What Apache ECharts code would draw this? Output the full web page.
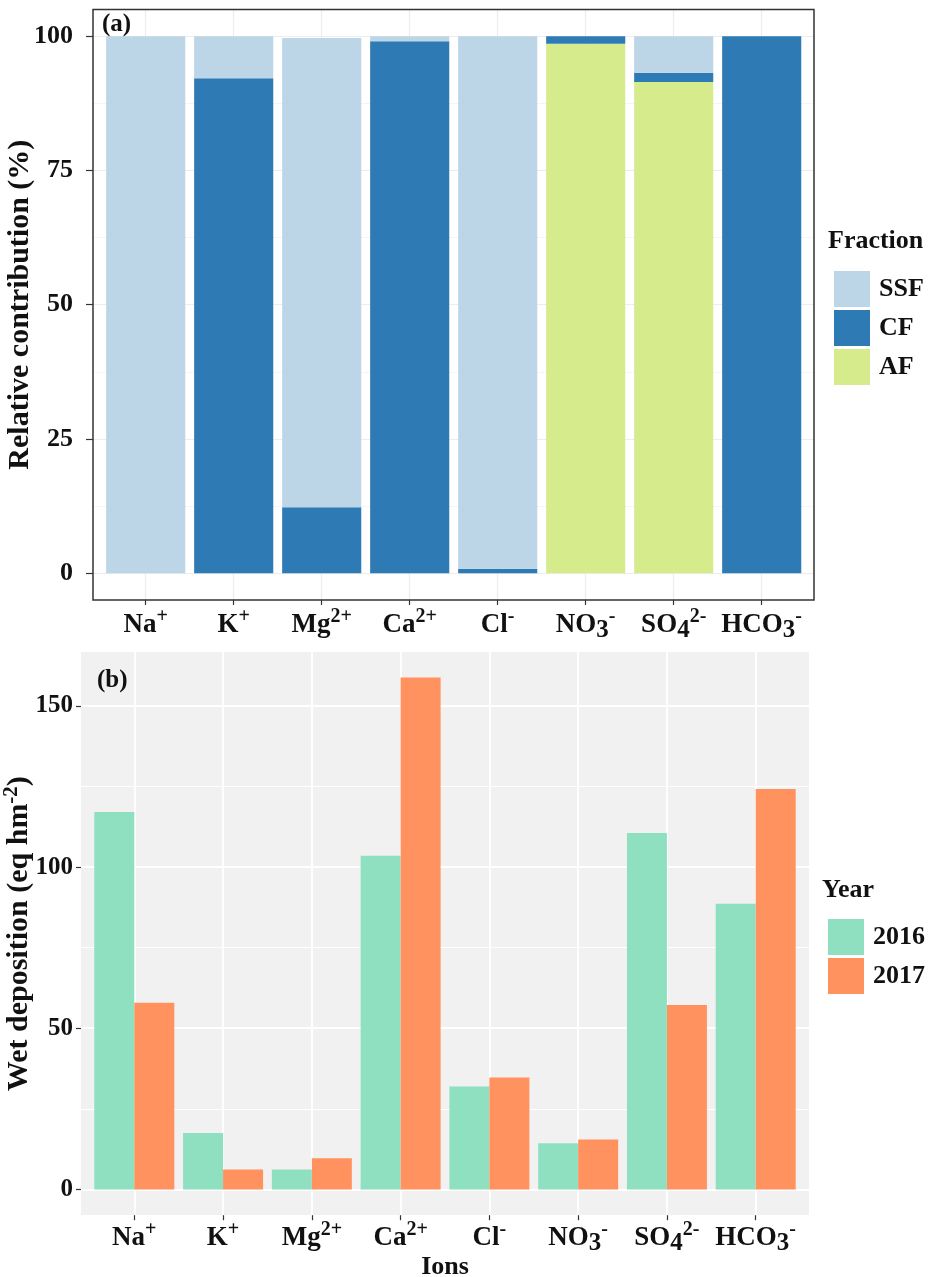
<!DOCTYPE html>
<html>
<head>
<meta charset="utf-8">
<script src="https://cdn.jsdelivr.net/npm/echarts@6/dist/echarts.min.js"></script>
<style>
  html, body { margin: 0; padding: 0; background: #fff; }
  #chart { width: 936px; height: 1277px; }
</style>
</head>
<body>
<div id="chart"></div>
<script>
// ion names: _ = subscript, ^ = charge (superscript)
const ions = ['Na^+', 'K^+', 'Mg^2+', 'Ca^2+', 'Cl^-', 'NO_3^-', 'SO_4^2-', 'HCO_3^-'];

// (a) relative contribution (%)
const fractions = ['SSF', 'CF', 'AF'];
const ssf = [100, 7.8, 87.4, 0.9, 99.2, 0, 6.8, 0];
const cf  = [0, 92.2, 12.3, 99.1, 0.8, 1.4, 1.7, 100];
const af  = [0, 0, 0, 0, 0, 98.6, 91.5, 0];
const fracTicks = [0, 100, 25];

// (b) wet deposition
const years = ['2016', '2017'];
const dep2016 = [117.1, 17.5, 6.2, 103.5, 31.9, 14.3, 110.6, 88.6];
const dep2017 = [57.9, 6.2, 9.7, 158.8, 34.7, 15.5, 57.2, 124.2];
const depTicks = [0, 150, 50];

const SERIF = 'Liberation Serif';
const INK = '#111';
const fracColors = { SSF: '#bcd6e7', CF: '#2e7ab4', AF: '#d5eb8c' };
const yearColors = { '2016': '#8ee0c0', '2017': '#ff925f' };

function ionLabel(s) {
  const m = s.match(/^([A-Za-z]+)(?:_(\d))?\^(.+)$/);
  return '{b|' + m[1] + '}' + (m[2] ? '{sub|' + m[2] + '}' : '') + '{sup|' + m[3] + '}';
}

const labelRich = {
  b:   { fontFamily: SERIF, fontWeight: 'bold', fontSize: 27, color: INK, lineHeight: 36 },
  sub: { fontFamily: SERIF, fontWeight: 'bold', fontSize: 25, color: INK, lineHeight: 26, verticalAlign: 'bottom' },
  sup: { fontFamily: SERIF, fontWeight: 'bold', fontSize: 20, color: INK, lineHeight: 20, verticalAlign: 'top' }
};

const txt = (size) => ({ fontFamily: SERIF, fontWeight: 'bold', fontSize: size, color: INK });

function catAxis(gridIndex, splitColor, splitWidth, margin) {
  return {
    type: 'category', gridIndex: gridIndex, data: ions, boundaryGap: false,
    axisLine: { show: false, onZero: false },
    axisTick: { show: true, length: 5, lineStyle: { color: '#333', width: 1.2 } },
    axisLabel: { margin: margin, formatter: ionLabel, rich: labelRich, interval: 0 },
    splitLine: { show: true, lineStyle: { color: splitColor, width: splitWidth } },
    nameMoveOverlap: false
  };
}

function valAxis(gridIndex, ticks, tickLen, margin, fontSize, major, minor) {
  return {
    type: 'value', gridIndex: gridIndex, min: ticks[0], max: ticks[1], interval: ticks[2],
    axisLine: { show: false, onZero: false },
    axisTick: { show: true, length: tickLen, lineStyle: { color: '#333', width: 1.2 } },
    axisLabel: Object.assign({ margin: margin, align: 'right' }, txt(fontSize)),
    splitLine: { show: true, lineStyle: { color: major.color, width: major.width } },
    minorTick: { show: false, splitNumber: 2 },
    minorSplitLine: { show: true, lineStyle: { color: minor.color, width: minor.width } },
    nameLocation: 'middle', nameRotate: 90, nameMoveOverlap: false
  };
}

const yA = valAxis(0, fracTicks, 7, 20, 26, { color: '#ececec', width: 1.2 }, { color: '#f2f2f2', width: 0.8 });
yA.name = 'Relative contribution (%)';
yA.nameGap = 58;
yA.nameTextStyle = txt(30);

const yB = valAxis(2, depTicks, 5, 8, 25, { color: '#fff', width: 1.8 }, { color: '#fff', width: 1 });
yB.name = '{t|Wet deposition (eq hm}{s|-2}{t|)}';
yB.nameGap = 44;
yB.nameTextStyle = {
  padding: [0, 0, 0, 28],
  rich: {
    t: Object.assign({ lineHeight: 36 }, txt(30)),
    s: Object.assign({ lineHeight: 21, verticalAlign: 'top' }, txt(21))
  }
};

const xB = catAxis(3, '#fff', 1.8, 5);
xB.name = 'Ions';
xB.nameLocation = 'middle';
xB.nameGap = 39;
xB.nameTextStyle = txt(26);

const legendBase = {
  orient: 'vertical', icon: 'rect', itemWidth: 36, itemHeight: 36, itemGap: 3,
  textStyle: Object.assign({ padding: [0, 0, 0, 4] }, txt(26)),
  selectedMode: false
};

// grids are placed by hand, so keep echarts from shrinking them to fit labels
const fixedGrid = (g) => Object.assign({ containLabel: false, outerBoundsMode: 'none' }, g);

const chart = echarts.init(document.getElementById('chart'));
chart.setOption({
  animation: false,
  backgroundColor: '#fff',
  title: [
    { text: '(a)', left: 97, top: 7, textStyle: txt(25) },
    { text: '(b)', left: 92, top: 663, textStyle: txt(25) },
    { text: 'Fraction', left: 823, top: 223, textStyle: txt(26) },
    { text: 'Year', left: 817, top: 872, textStyle: txt(26) }
  ],
  legend: [
    Object.assign({ data: fractions, left: 829, top: 266 }, legendBase),
    Object.assign({ data: years, left: 823, top: 914 }, legendBase)
  ],
  graphic: [
    { type: 'rect', z: -10, shape: { x: 81, y: 652, width: 728, height: 563 }, style: { fill: '#f1f1f1' } },
    { type: 'rect', z: 100, silent: true, shape: { x: 93, y: 9.5, width: 721, height: 590.5 },
      style: { fill: 'none', stroke: '#333', lineWidth: 1.5 } }
  ],
  grid: [
    fixedGrid({ left: 93, top: 36, width: 721, height: 537.3 }),
    fixedGrid({ left: 145.7, top: 9.5, width: 616, height: 590.5 }),
    fixedGrid({ left: 81, top: 705.9, width: 728, height: 483.5 }),
    fixedGrid({ left: 134.3, top: 651.1, width: 621.4, height: 564.1 })
  ],
  xAxis: [
    { type: 'value', gridIndex: 0, show: false, min: 0, max: 1 },
    catAxis(1, '#ececec', 1.2, 7),
    { type: 'value', gridIndex: 2, show: false, min: 0, max: 1 },
    xB
  ],
  yAxis: [
    yA,
    { type: 'value', gridIndex: 1, show: false, min: -5, max: 105, interval: 5 },
    yB,
    { type: 'value', gridIndex: 3, show: false, min: -8, max: 167, interval: 1 }
  ],
  series: [
    { name: 'AF', type: 'bar', stack: 'frac', xAxisIndex: 1, yAxisIndex: 1, data: af,
      barWidth: 79.1, clip: false, itemStyle: { color: fracColors.AF } },
    { name: 'CF', type: 'bar', stack: 'frac', xAxisIndex: 1, yAxisIndex: 1, data: cf,
      barWidth: 79.1, clip: false, itemStyle: { color: fracColors.CF } },
    { name: 'SSF', type: 'bar', stack: 'frac', xAxisIndex: 1, yAxisIndex: 1, data: ssf,
      barWidth: 79.1, clip: false, itemStyle: { color: fracColors.SSF } },
    { name: '2016', type: 'bar', xAxisIndex: 3, yAxisIndex: 3, data: dep2016,
      barWidth: 40, barGap: '0%', clip: false, itemStyle: { color: yearColors['2016'] } },
    { name: '2017', type: 'bar', xAxisIndex: 3, yAxisIndex: 3, data: dep2017,
      barWidth: 40, barGap: '0%', clip: false, itemStyle: { color: yearColors['2017'] } }
  ]
});
</script>
</body>
</html>
